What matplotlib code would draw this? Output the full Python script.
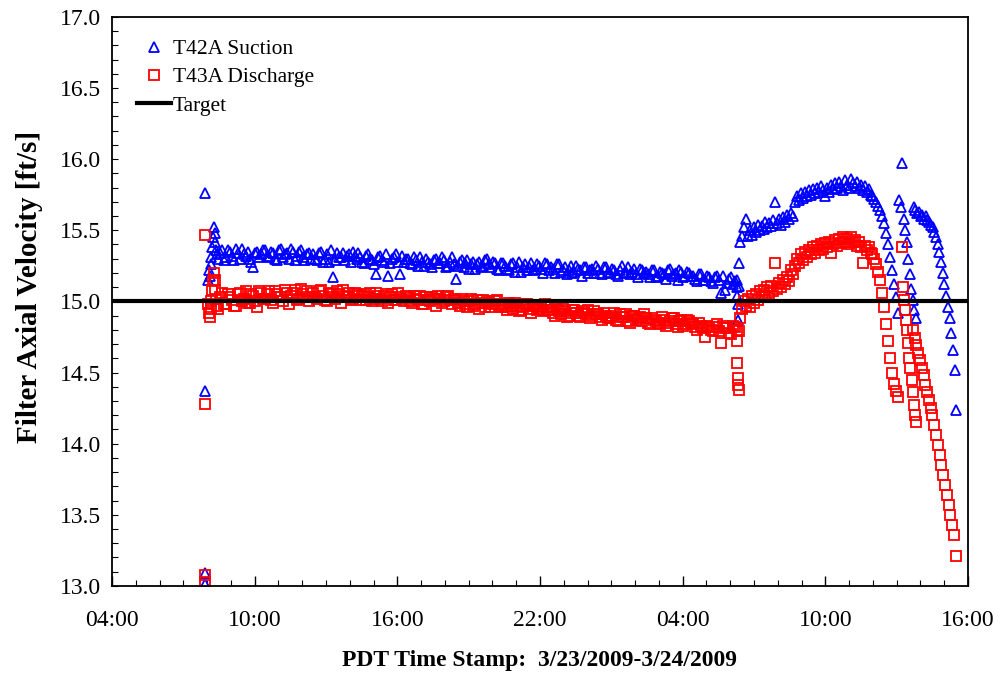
import numpy as np
import matplotlib
matplotlib.use('Agg')
from matplotlib import pyplot
from matplotlib.lines import Line2D
from matplotlib.ticker import MultipleLocator

## readings, time in hours from 3/23/2009 00:00
# start-up spikes (all at the same stamp)
t_spike = 7.9
suction_spike = [15.76, 14.37, 13.09, 13.01]
discharge_spike = [15.47, 14.28, 13.08, 13.03]

# start-up ramp, 2 min logging
t_ramp0, ramp_step = 8.05, 2
suction_ramp = [15.15, 15.22, 15.18, 15.26, 15.31, 15.38, 15.45, 15.52, 15.48, 15.42, 15.36, 15.33]
discharge_ramp = [14.98, 14.92, 14.89, 14.95, 15.00, 15.08, 15.14, 15.20, 15.15, 15.08, 15.02, 14.97]

# steady run, 10 min logging (second list is offset by 5 min)
t_run0, run_step = 8.45, 10
suction_run = [
    15.30, 15.36, 15.31, 15.35, 15.29, 15.34, 15.37, 15.32, 15.30, 15.24, 15.35, 15.33,
    15.36, 15.31, 15.34, 15.29, 15.37, 15.33, 15.30, 15.35, 15.32, 15.36, 15.29, 15.34,
    15.33, 15.29, 15.35, 15.30, 15.28, 15.17, 15.34, 15.31, 15.29, 15.33, 15.35, 15.30,
    15.31, 15.27, 15.33, 15.29, 15.19, 15.32, 15.28, 15.18, 15.30, 15.33, 15.19, 15.28,
    15.30, 15.26, 15.29, 15.31, 15.25, 15.28, 15.24, 15.30, 15.27, 15.29, 15.25, 15.31,
    15.16, 15.28, 15.24, 15.29, 15.26, 15.23, 15.28, 15.25, 15.30, 15.24, 15.27, 15.22,
    15.27, 15.23, 15.26, 15.21, 15.28, 15.24, 15.22, 15.27, 15.23, 15.25, 15.20, 15.26,
    15.24, 15.20, 15.26, 15.22, 15.19, 15.25, 15.21, 15.23, 15.18, 15.24, 15.22, 15.20,
    15.23, 15.19, 15.24, 15.20, 15.22, 15.18, 15.25, 15.21, 15.19, 15.23, 15.17, 15.22,
    15.21, 15.17, 15.22, 15.18, 15.20, 15.16, 15.23, 15.19, 15.15, 15.21, 15.18, 15.20,
    15.18, 15.14, 15.19, 15.15, 15.17, 15.13, 15.18, 15.06, 15.08, 15.16, 15.12, 15.15,
]
suction_run_b = [
    15.34, 15.29, 15.36, 15.32, 15.37, 15.30, 15.33, 15.35, 15.28, 15.34, 15.31, 15.36,
    15.32, 15.35, 15.30, 15.36, 15.31, 15.34, 15.37, 15.29, 15.35, 15.31, 15.33, 15.30,
    15.30, 15.34, 15.28, 15.33, 15.36, 15.29, 15.31, 15.34, 15.32, 15.28, 15.32, 15.34,
    15.28, 15.32, 15.30, 15.26, 15.31, 15.29, 15.33, 15.27, 15.31, 15.28, 15.32, 15.30,
    15.27, 15.31, 15.25, 15.28, 15.30, 15.26, 15.29, 15.27, 15.31, 15.24, 15.28, 15.26,
    15.25, 15.29, 15.27, 15.23, 15.28, 15.26, 15.24, 15.29, 15.26, 15.28, 15.23, 15.27,
    15.25, 15.22, 15.27, 15.24, 15.21, 15.26, 15.24, 15.22, 15.26, 15.23, 15.27, 15.22,
    15.23, 15.26, 15.21, 15.24, 15.22, 15.20, 15.25, 15.22, 15.24, 15.20, 15.23, 15.25,
    15.20, 15.24, 15.21, 15.23, 15.19, 15.22, 15.20, 15.24, 15.21, 15.19, 15.23, 15.20,
    15.19, 15.22, 15.17, 15.21, 15.19, 15.22, 15.18, 15.20, 15.22, 15.17, 15.21, 15.18,
    15.16, 15.19, 15.15, 15.18, 15.14, 15.17, 15.15, 15.18, 15.13, 15.17, 15.14, 15.11,
]
discharge_run = [
    14.95, 15.06, 14.98, 15.03, 14.97, 15.05, 15.00, 15.07, 14.99, 15.04, 14.96, 15.06,
    15.02, 15.07, 14.99, 15.05, 15.03, 15.08, 14.98, 15.06, 15.01, 15.09, 15.03, 15.00,
    15.06, 15.02, 15.08, 15.01, 15.05, 15.03, 15.07, 14.99, 15.04, 15.06, 15.02, 15.05,
    15.01, 15.05, 15.03, 15.00, 15.06, 15.02, 15.04, 14.99, 15.05, 15.01, 15.03, 15.00,
    15.03, 14.99, 15.02, 15.04, 14.98, 15.01, 15.03, 14.97, 15.02, 15.00, 15.04, 14.98,
    15.01, 14.97, 15.00, 14.96, 15.02, 14.98, 14.95, 15.01, 14.99, 14.96, 15.00, 14.97,
    14.98, 14.94, 14.97, 14.99, 14.93, 14.96, 14.98, 14.92, 14.97, 14.95, 14.93, 14.96,
    14.94, 14.90, 14.93, 14.95, 14.89, 14.92, 14.94, 14.90, 14.93, 14.91, 14.88, 14.93,
    14.91, 14.87, 14.90, 14.88, 14.92, 14.86, 14.89, 14.91, 14.85, 14.90, 14.88, 14.86,
    14.88, 14.84, 14.87, 14.85, 14.89, 14.83, 14.86, 14.88, 14.82, 14.87, 14.84, 14.86,
    14.84, 14.80, 14.83, 14.75, 14.82, 14.79, 14.84, 14.71, 14.81, 14.78, 14.83, 14.80,
]
discharge_run_b = [
    15.03, 14.98, 15.05, 15.01, 14.97, 15.06, 15.02, 14.99, 15.05, 15.00, 15.07, 15.02,
    15.05, 15.01, 15.07, 15.03, 15.00, 15.06, 15.04, 15.08, 15.02, 15.05, 15.07, 15.03,
    15.03, 15.07, 15.04, 15.00, 15.06, 15.02, 15.05, 15.08, 15.03, 15.01, 15.06, 15.04,
    15.04, 15.01, 15.06, 15.02, 15.04, 15.00, 15.05, 15.03, 15.01, 15.06, 15.02, 15.04,
    15.00, 15.04, 15.01, 14.98, 15.03, 15.00, 15.02, 15.04, 14.99, 15.03, 15.01, 15.02,
    14.99, 15.02, 14.98, 15.00, 14.97, 15.01, 14.99, 14.96, 15.00, 14.98, 15.01, 14.96,
    14.96, 14.99, 14.95, 14.97, 14.94, 14.98, 14.95, 14.97, 14.94, 14.96, 14.98, 14.94,
    14.92, 14.95, 14.91, 14.93, 14.90, 14.94, 14.92, 14.89, 14.92, 14.94, 14.90, 14.91,
    14.89, 14.92, 14.88, 14.90, 14.87, 14.91, 14.89, 14.86, 14.90, 14.87, 14.89, 14.91,
    14.85, 14.88, 14.86, 14.84, 14.87, 14.85, 14.88, 14.84, 14.86, 14.83, 14.87, 14.85,
    14.82, 14.85, 14.81, 14.83, 14.80, 14.82, 14.79, 14.83, 14.81, 14.77, 14.82, 14.79,
]

# upset at 06:20 on 3/24
t_dip = [30.28, 30.30, 30.32, 30.34, 30.36]
suction_dip = [15.10, 15.04, 14.98, 14.87, 15.27]
discharge_dip = [14.72, 14.57, 14.46, 14.41, 14.38]

# recovery, 5 min logging
t_rec0, rec_step = 30.40, 5
suction_rec = [
    15.42, 15.46, 15.52, 15.58,
    15.46, 15.50, 15.47, 15.52, 15.49, 15.54, 15.50, 15.53, 15.51, 15.56, 15.52, 15.55,
    15.53, 15.57, 15.70, 15.55, 15.58, 15.54, 15.59, 15.56, 15.61, 15.58, 15.62, 15.60,
    15.70, 15.74, 15.71, 15.76, 15.73, 15.77, 15.74, 15.78, 15.75, 15.79,
    15.76, 15.80, 15.77, 15.81, 15.78, 15.74, 15.80, 15.77, 15.82, 15.79,
    15.83, 15.80, 15.84, 15.81, 15.78, 15.85, 15.82, 15.80, 15.86, 15.83,
    15.81, 15.84, 15.80, 15.82, 15.78, 15.81, 15.77, 15.79, 15.75,
    15.74, 15.72, 15.70, 15.67, 15.64, 15.60, 15.55, 15.48, 15.40, 15.31, 15.22, 15.12, 15.03, 14.92,
]
discharge_rec = [
    14.88, 14.95, 15.00, 14.97,
    15.02, 14.96, 15.04, 14.99, 15.05, 15.01, 15.07, 15.03, 15.08, 15.04, 15.10, 15.06,
    15.11, 15.07, 15.27, 15.09, 15.13, 15.10, 15.15, 15.12, 15.17, 15.14, 15.22, 15.19,
    15.25, 15.30, 15.27, 15.33, 15.29, 15.35, 15.31, 15.36, 15.33, 15.38,
    15.34, 15.39, 15.36, 15.40, 15.37, 15.41, 15.38, 15.42, 15.34, 15.40,
    15.43, 15.39, 15.44, 15.41, 15.45, 15.42, 15.44, 15.40, 15.45, 15.42,
    15.43, 15.39, 15.42, 15.38, 15.27, 15.39, 15.36, 15.38, 15.34,
    15.33, 15.30, 15.26, 15.21, 15.15, 15.06, 14.96, 14.84, 14.72, 14.60, 14.50, 14.42, 14.37, 14.33,
]

# second and third fall-off
t_b2_suction, b2_suction_step = 37.10, 3.9
suction_b2 = [15.71, 15.66, 15.97, 15.58, 15.50, 15.42, 15.30, 15.19, 15.09, 15.01, 14.94, 14.88]
t_b2_discharge, b2_discharge_step = 37.22, 2.7
discharge_b2 = [15.38, 15.10, 15.01, 14.94, 14.87, 14.80, 14.71, 14.60, 14.53, 14.45, 14.36, 14.27, 14.20, 14.15]

t_b3_suction, b3_suction_step = 37.72, 4.3
suction_b3 = [15.66, 15.64, 15.62, 15.63, 15.60, 15.61, 15.58, 15.60, 15.57, 15.56, 15.54, 15.52, 15.49,
              15.45, 15.40, 15.35, 15.28, 15.20, 15.12, 15.04, 14.96, 14.88, 14.78, 14.66, 14.52, 14.24]
t_b3_discharge, b3_discharge_step = 37.68, 4.5
discharge_b3 = [14.80, 14.74, 14.69, 14.64, 14.59, 14.53, 14.48, 14.41, 14.36, 14.31, 14.25, 14.20, 14.13,
                14.06, 13.99, 13.92, 13.85, 13.78, 13.71, 13.64, 13.57, 13.50, 13.43, 13.36, 13.21]

target = 15.0
tick_hours = [4, 10, 16, 22, 28, 34, 40]
tick_labels = ['04:00', '10:00', '16:00', '22:00', '04:00', '10:00', '16:00']


def stamps(start, step_min, values):
    return start + np.arange(len(values)) * step_min / 60.0


def series(spike, ramp, run, run_b, dip, rec, b2, b3, t_b2, s_b2, t_b3, s_b3):
    t = np.concatenate([
        np.full(len(spike), t_spike),
        stamps(t_ramp0, ramp_step, ramp),
        stamps(t_run0, run_step, run),
        stamps(t_run0 + run_step / 120.0, run_step, run_b),
        np.array(t_dip[:len(dip)]),
        stamps(t_rec0, rec_step, rec),
        stamps(t_b2, s_b2, b2),
        stamps(t_b3, s_b3, b3),
    ])
    v = np.concatenate([spike, ramp, run, run_b, dip, rec, b2, b3])
    return t, v


t_s, v_s = series(suction_spike, suction_ramp, suction_run, suction_run_b, suction_dip, suction_rec,
                  suction_b2, suction_b3, t_b2_suction, b2_suction_step, t_b3_suction, b3_suction_step)
t_d, v_d = series(discharge_spike, discharge_ramp, discharge_run, discharge_run_b, discharge_dip, discharge_rec,
                  discharge_b2, discharge_b3, t_b2_discharge, b2_discharge_step, t_b3_discharge, b3_discharge_step)

pyplot.rcParams['font.family'] = 'Liberation Serif'

tri = dict(linestyle='none', marker='^', ms=7.5, mfc='none', mec='#0000ff', mew=1.3)
sq = dict(linestyle='none', marker='s', ms=7.5, mfc='none', mec='#ff0000', mew=1.3)

fig = pyplot.figure(figsize=(10, 6.75), dpi=100)
ax = fig.add_axes([0.112, 0.132, 0.856, 0.843])

ax.plot(t_s, v_s, **tri)
ax.plot(t_d, v_d, **sq)
ax.axhline(target, color='black', lw=3, zorder=4)

ax.set_xlim(4, 40)
ax.set_ylim(13.0, 17.0)
ax.set_xticks(tick_hours)
ax.set_xticklabels(tick_labels)
ax.xaxis.set_minor_locator(MultipleLocator(1))
ax.yaxis.set_major_locator(MultipleLocator(0.5))
ax.yaxis.set_minor_locator(MultipleLocator(0.1))
ax.yaxis.set_major_formatter(matplotlib.ticker.FormatStrFormatter('%.1f'))

ax.tick_params(axis='both', which='both', direction='in', labelsize=17, top=False, right=False)
ax.tick_params(axis='x', which='major', length=7, width=1, pad=17)
ax.tick_params(axis='x', which='minor', length=4, width=0.8)
ax.tick_params(axis='y', which='both', length=4, width=0.8, pad=8)
for s in ax.spines.values():
    s.set_linewidth(1.3)

ax.set_ylabel('Filter Axial Velocity [ft/s]', fontsize=21, fontweight='bold')
ax.yaxis.set_label_coords(-0.081, 0.525)
ax.set_xlabel('PDT Time Stamp:  3/23/2009-3/24/2009', fontsize=17, fontweight='bold', labelpad=14)

## legend
handles = [Line2D([], [], **tri), Line2D([], [], **sq), Line2D([], [], color='black', lw=3)]
ax.legend(handles, ['T42A Suction', 'T43A Discharge', 'Target'], loc='upper left',
          bbox_to_anchor=(0.006, 0.995), frameon=False, fontsize=15.5, handlelength=1.6,
          handletextpad=0.1, labelspacing=0.38)

pyplot.savefig('out.png', dpi=100)
pyplot.close()
